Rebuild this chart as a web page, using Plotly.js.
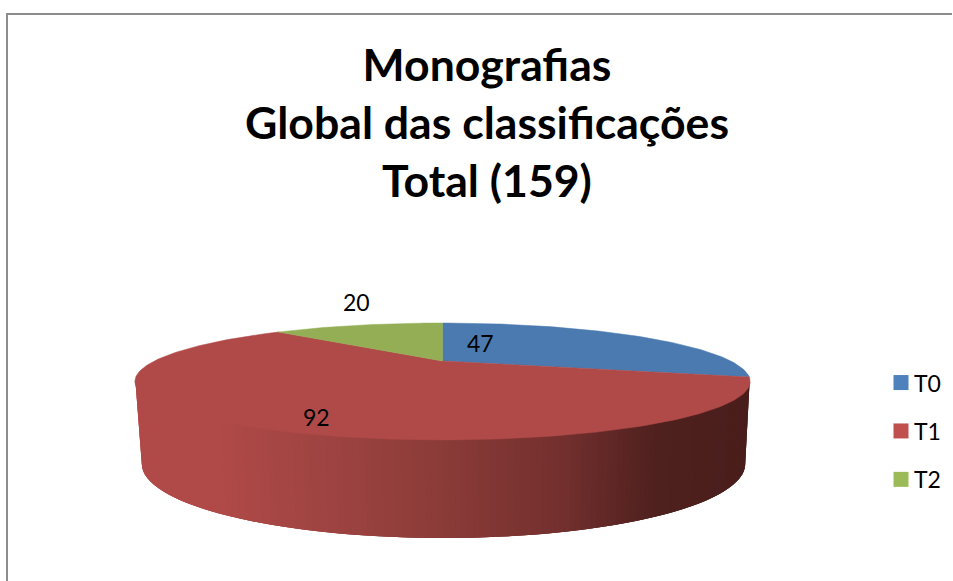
<!DOCTYPE html>
<html>
<head>
<meta charset="utf-8">
<script src="https://cdn.plot.ly/plotly-3.0.1.min.js"></script>
<style>html,body{margin:0;padding:0;background:#fff}#c{width:953px;height:581px}</style>
</head>
<body>
<div id="c"></div>
<script>
const categories = ['T0', 'T1', 'T2'];
const values = [47, 92, 20];

const faceColors = ['#4A7AB0', '#B04A48', '#93AE54'];
const legendColors = ['#4F81BD', '#C0504D', '#9BBB59'];

// Perspective projection of the unit disk onto the page (page pixels = axis units)
const view = {cx: 443, cy: 361, a: 288.5, b: 51.3, k: 0.35};
function project(deg) {
  const r = deg * Math.PI / 180, u = Math.sin(r), v = Math.cos(r), d = 1 + view.k * v;
  return [view.cx + view.a * u / d, view.cy - view.b * v / d];
}

const traces = [];

// Side wall: overlapping strips between the rim (tucked under the face) and the base ellipse
const rim = {cx: 443, cy: 380, rx: 307.5, ry: 58};
const base = {cx: 444, cy: 464, rx: 302, ry: 74};
const shade = [[135, [176, 74, 72]], [215, [176, 74, 72]], [350, [154, 66, 64]], [443, [138, 59, 56]],
               [560, [116, 48, 46]], [660, [78, 32, 30]], [753, [74, 30, 28]]];
function shadeAt(x) {
  for (let i = 1; i < shade.length; i++) {
    if (x <= shade[i][0]) {
      const f = (x - shade[i - 1][0]) / (shade[i][0] - shade[i - 1][0]);
      const c = shade[i - 1][1].map((p, j) => Math.round(p + f * (shade[i][1][j] - p)));
      return 'rgb(' + c.join(',') + ')';
    }
  }
  return 'rgb(74,30,28)';
}
const strips = 160;
const wallPoint = (e, t) => [e.cx + e.rx * Math.cos(t), e.cy + e.ry * Math.sin(t)];
for (let i = 0; i < strips; i++) {
  const t0 = Math.PI * i / strips, t1 = Math.min(Math.PI, Math.PI * (i + 3) / strips);
  const pts = [];
  for (let j = 0; j <= 6; j++) pts.push(wallPoint(rim, t0 + (t1 - t0) * j / 6));
  for (let j = 6; j >= 0; j--) pts.push(wallPoint(base, t0 + (t1 - t0) * j / 6));
  const mid = wallPoint(rim, Math.PI * (i + 0.5) / strips)[0];
  const col = shadeAt(mid);
  traces.push({type: 'scatter', mode: 'lines', x: pts.map(q => q[0]), y: pts.map(q => q[1]),
    fill: 'toself', fillcolor: col, line: {width: 0}, showlegend: false, hoverinfo: 'skip'});
}

// Top face slices, clockwise from 12 o'clock
const total = values.reduce((s, v) => s + v, 0);
let start = 0;
values.forEach((val, i) => {
  const sweep = val / total * 360, xs = [view.cx], ys = [view.cy];
  const n = Math.max(8, Math.ceil(sweep));
  for (let j = 0; j <= n; j++) {
    const q = project(start + sweep * j / n);
    xs.push(q[0]); ys.push(q[1]);
  }
  xs.push(view.cx); ys.push(view.cy);
  traces.push({type: 'scatter', mode: 'lines', x: xs, y: ys, fill: 'toself', fillcolor: faceColors[i],
    line: {color: faceColors[i], width: 0.5}, name: categories[i] + ' face', showlegend: false,
    text: categories[i] + ': ' + val, hoverinfo: 'text'});
  start += sweep;
});

// Legend entries
categories.forEach((name, i) => {
  traces.push({type: 'scatter', mode: 'markers', x: [null], y: [null], name: name, legendgroup: name,
    marker: {symbol: 'square', size: 15, color: legendColors[i]}, hoverinfo: 'skip'});
});

const font = 'Lato, Carlito, Calibri, sans-serif';
const labelAt = [[481, 343], [317, 417], [357, 302]];
const layout = {
  width: 953, height: 581,
  margin: {l: 0, r: 0, t: 0, b: 0},
  paper_bgcolor: '#fff', plot_bgcolor: '#fff',
  font: {family: font, color: '#000'},
  title: {text: 'Monografias<br>Global das classificações<br>Total (159)',
    font: {family: font, size: 44.6, color: '#000', weight: 700},
    x: 0.511, xanchor: 'center', y: 0.86, yanchor: 'middle', yref: 'container'},
  xaxis: {range: [0, 953], visible: false, fixedrange: true},
  yaxis: {range: [581, 0], visible: false, fixedrange: true},
  showlegend: true,
  legend: {x: 0.925, xanchor: 'left', y: 0.258, yanchor: 'middle',
    font: {family: font, size: 23, color: '#000'},
    tracegroupgap: 15.5, itemwidth: 30, bgcolor: 'rgba(0,0,0,0)'},
  shapes: [
    {type: 'line', x0: 7, x1: 7, y0: 14, y1: 581, line: {color: '#8c8c8c', width: 2}},
    {type: 'line', x0: 6, x1: 953, y0: 14, y1: 14, line: {color: '#8c8c8c', width: 2}}
  ],
  annotations: values.map((v, i) => ({x: labelAt[i][0], y: labelAt[i][1], text: String(v), showarrow: false,
    font: {family: font, size: 23, color: '#000'}, xanchor: 'center', yanchor: 'middle'}))
};
Plotly.newPlot('c', traces, layout, {displayModeBar: false}).then(() => {
  // Bring the legend text closer to its swatch, as in the reference
  document.querySelectorAll('#c .legendtext').forEach(t => {
    t.setAttribute('x', parseFloat(t.getAttribute('x')) - 7);
  });
});
</script>
</body>
</html>
